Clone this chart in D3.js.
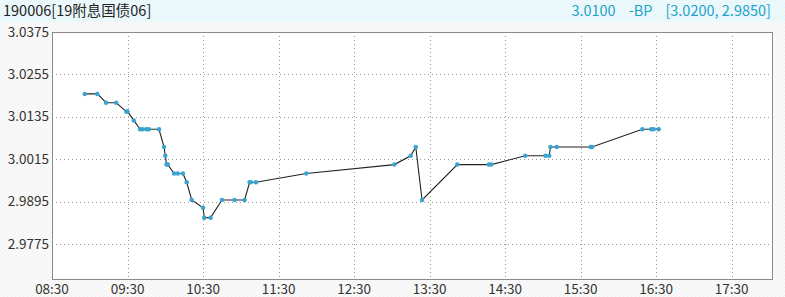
<!DOCTYPE html>
<html>
<head>
<meta charset="utf-8">
<script src="https://cdn.jsdelivr.net/npm/d3@7"></script>
<style>
  body { margin: 0; background: #fff; }
  svg { display: block; font-family: "Noto Sans CJK SC", "Noto Sans", sans-serif; }
</style>
</head>
<body>
<svg id="chart" width="785" height="297"></svg>
<script>
// trade times and prices
let times = ['08:56','09:06','09:13','09:21','09:29','09:30','09:35','09:40','09:42','09:45','09:47','09:55',
    '09:59','10:00','10:01','10:02','10:07','10:10','10:14','10:17','10:21','10:30','10:31','10:36',
    '10:45','10:55','11:03','11:07','11:08','11:12','11:52','13:02','13:15','13:19','13:24','13:52',
    '14:17','14:19','14:46','15:02','15:05','15:06','15:11','15:38','15:39','16:19','16:26','16:28','16:32'];
let prices = [3.0200,3.0200,3.0175,3.0175,3.0150,3.0150,3.0125,3.0100,3.0100,3.0100,3.0100,3.0100,
    3.0050,3.0025,3.0000,3.0000,2.9975,2.9975,2.9975,2.9950,2.9900,2.9878,2.9850,2.9850,
    2.9900,2.9900,2.9900,2.9950,2.9950,2.9950,2.9975,3.0000,3.0025,3.0050,2.9900,3.0000,
    3.0000,3.0000,3.0025,3.0025,3.0025,3.0050,3.0050,3.0050,3.0050,3.0100,3.0100,3.0100,3.0100];

let yTicks = [3.0375, 3.0255, 3.0135, 3.0015, 2.9895, 2.9775];
let xTicks = ['08:30','09:30','10:30','11:30','12:30','13:30','14:30','15:30','16:30','17:30'];

let title = '190006[19附息国债06]';
let quote = '3.0100    -BP    [3.0200, 2.9850]';

let svg = d3.select('#chart');
let pLeft = 52, pRight = 772, pTop = 32, pBottom = 279;

let parse = d3.timeParse('%H:%M');
let x = d3.scaleTime()
    .domain([parse('08:30'), parse('18:02')])
    .range([pLeft, pRight]);
let y = d3.scaleLinear()
    .domain([2.96765, 3.0375])
    .range([pBottom, pTop]);

// hatched background
let defs = svg.append('defs');
let pat = defs.append('pattern').attr('id', 'hatch')
    .attr('width', 4).attr('height', 4)
    .attr('patternUnits', 'userSpaceOnUse');
pat.append('rect').attr('width', 4).attr('height', 4).attr('fill', '#fafafa');
pat.append('path').attr('d', 'M0,4 L4,0').attr('stroke', '#f0f0f0').attr('stroke-width', 1);
let pat2 = defs.append('pattern').attr('id', 'hatch2')
    .attr('width', 4).attr('height', 4)
    .attr('patternUnits', 'userSpaceOnUse');
pat2.append('rect').attr('width', 4).attr('height', 4).attr('fill', '#eef9fc');
pat2.append('path').attr('d', 'M0,4 L4,0').attr('stroke', '#e0f4fa').attr('stroke-width', 1);

svg.append('rect').attr('width', 785).attr('height', 297).attr('fill', 'url(#hatch)');
svg.append('rect').attr('width', 785).attr('height', 22).attr('fill', 'url(#hatch2)');
svg.append('rect')
    .attr('x', pLeft).attr('y', pTop)
    .attr('width', pRight - pLeft).attr('height', pBottom - pTop)
    .attr('fill', '#fff');

// header
svg.append('text').attr('x', 3).attr('y', 16)
    .attr('font-size', 14.5).attr('fill', '#222')
    .text(title);
svg.append('text').attr('x', 771).attr('y', 16)
    .attr('text-anchor', 'end')
    .attr('font-size', 14.5).attr('fill', '#1ba3c9')
    .style('white-space', 'pre')
    .text(quote);

// grid
svg.append('g')
    .selectAll('line')
    .data(yTicks.slice(1))
    .join('line')
    .attr('x1', pLeft).attr('x2', pRight)
    .attr('y1', d => Math.round(y(d)) + 0.5)
    .attr('y2', d => Math.round(y(d)) + 0.5)
    .attr('stroke', '#999').attr('stroke-dasharray', '1,3');
svg.append('g')
    .selectAll('line')
    .data(xTicks.slice(1))
    .join('line')
    .attr('x1', d => Math.round(x(parse(d))) + 0.5)
    .attr('x2', d => Math.round(x(parse(d))) + 0.5)
    .attr('y1', pTop).attr('y2', pBottom)
    .attr('stroke', '#999').attr('stroke-dasharray', '1,3');

svg.append('rect')
    .attr('x', pLeft + 0.5).attr('y', pTop + 0.5)
    .attr('width', pRight - pLeft).attr('height', pBottom - pTop)
    .attr('fill', 'none').attr('stroke', '#8a8a8a');

// axis labels
svg.append('g')
    .selectAll('text')
    .data(yTicks)
    .join('text')
    .attr('x', pLeft - 3)
    .attr('y', d => y(d) + 4.5)
    .attr('text-anchor', 'end')
    .attr('font-size', 13.5).attr('fill', '#333')
    .text(d => d.toFixed(4));
svg.append('g')
    .selectAll('text')
    .data(xTicks)
    .join('text')
    .attr('x', d => x(parse(d)))
    .attr('y', 294)
    .attr('text-anchor', 'middle')
    .attr('font-size', 13.5).attr('fill', '#333')
    .text(d => d);

// series
let pts = times.map((t, i) => ({ t: parse(t), v: prices[i] }));
svg.append('path')
    .datum(pts)
    .attr('fill', 'none')
    .attr('stroke', '#222')
    .attr('stroke-width', 1.1)
    .attr('d', d3.line().x(d => x(d.t)).y(d => y(d.v)));
svg.append('g')
    .selectAll('path')
    .data(pts)
    .join('path')
    .attr('transform', d => 'translate(' + x(d.t) + ',' + y(d.v) + ')')
    .attr('d', d3.symbol().type(d3.symbolCircle).size(16))
    .attr('fill', '#3aa3cf');
</script>
</body>
</html>
